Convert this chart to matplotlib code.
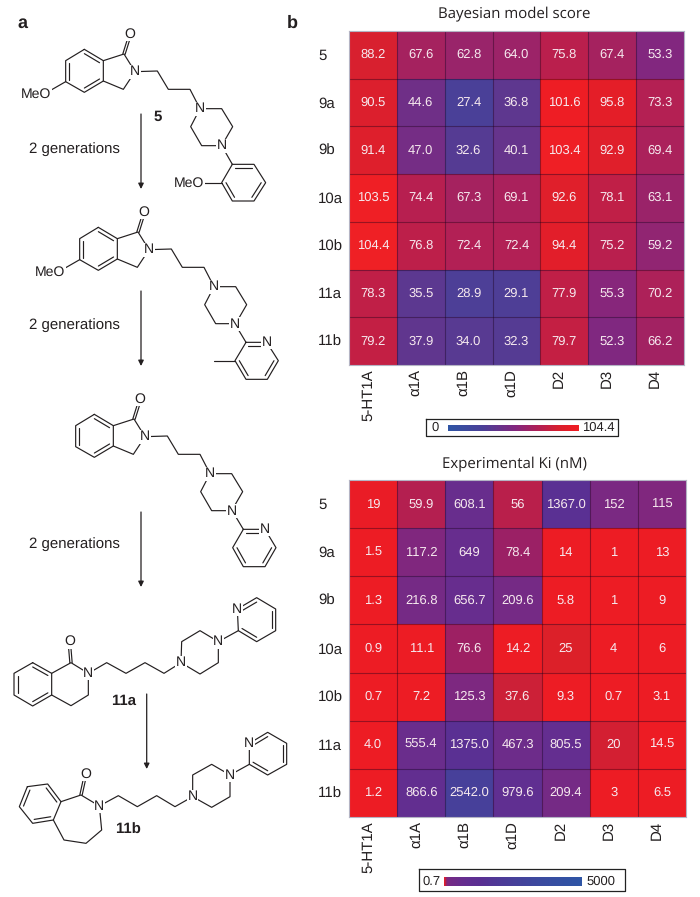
import numpy as np
import matplotlib
matplotlib.use("Agg")
import matplotlib.pyplot as plt
from matplotlib.colors import LinearSegmentedColormap, LogNorm, Normalize

plt.rcParams['font.family'] = ['Liberation Sans', 'DejaVu Sans']
plt.rcParams['text.hinting'] = 'no_hinting'
plt.rcParams['text.hinting_factor'] = 1

W, H = 700, 897

compounds = ["5", "9a", "9b", "10a", "10b", "11a", "11b"]
receptors = ["5-HT1A", "α1A", "α1B", "α1D", "D2", "D3", "D4"]

score = [
    [88.2, 67.6, 62.8, 64.0, 75.8, 67.4, 53.3],
    [90.5, 44.6, 27.4, 36.8, 101.6, 95.8, 73.3],
    [91.4, 47.0, 32.6, 40.1, 103.4, 92.9, 69.4],
    [103.5, 74.4, 67.3, 69.1, 92.6, 78.1, 63.1],
    [104.4, 76.8, 72.4, 72.4, 94.4, 75.2, 59.2],
    [78.3, 35.5, 28.9, 29.1, 77.9, 55.3, 70.2],
    [79.2, 37.9, 34.0, 32.3, 79.7, 52.3, 66.2],
]
ki = [
    ["19", "59.9", "608.1", "56", "1367.0", "152", "115"],
    ["1.5", "117.2", "649", "78.4", "14", "1", "13"],
    ["1.3", "216.8", "656.7", "209.6", "5.8", "1", "9"],
    ["0.9", "11.1", "76.6", "14.2", "25", "4", "6"],
    ["0.7", "7.2", "125.3", "37.6", "9.3", "0.7", "3.1"],
    ["4.0", "555.4", "1375.0", "467.3", "805.5", "20", "14.5"],
    ["1.2", "866.6", "2542.0", "979.6", "209.4", "3", "6.5"],
]

# colour stops
score_stops = [(0, "#2f55a5"), (27.4, "#4a4098"), (53.3, "#82277f"), (75, "#b81f4f"),
               (88.2, "#d8202f"), (101, "#ed1c24"), (104.4, "#ef2025")]
ki_stops = [(0.7, "#ed1c24"), (19, "#ed1c24"), (20, "#cc2036"), (25, "#dc2029"), (37.6, "#cb2038"),
            (58, "#b81f4d"), (78, "#9c2064"), (120, "#7e2880"), (209, "#752a85"),
            (467, "#6d2c8a"), (805, "#642e90"), (1367, "#5a3093"), (2542, "#48409a"),
            (5000, "#2f55a5")]

score_norm = Normalize(0, 104.4)
ki_norm = LogNorm(0.7, 5000)
score_cmap = LinearSegmentedColormap.from_list("score", [(float(score_norm(v)), c) for v, c in score_stops])
ki_cmap = LinearSegmentedColormap.from_list("ki", [(float(ki_norm(v)), c) for v, c in ki_stops])

INK = "#231f20"
fig = plt.figure(figsize=(W / 100, H / 100), dpi=100, facecolor="white")


def px_axes(x0, y0, x1, y1):
    return fig.add_axes([x0 / W, 1 - y1 / H, (x1 - x0) / W, (y1 - y0) / H])


def heatmap(box, values, labels, cmap, norm):
    ax = px_axes(*box)
    ax.pcolormesh(np.array(values, dtype=float), cmap=cmap, norm=norm)
    ax.set_ylim(len(values), 0)
    ax.set_xlim(0, len(receptors))
    ax.set_xticks([])
    ax.set_yticks([])
    ax.hlines(range(1, len(compounds)), 0, len(receptors), color=(0.1, 0, 0.1, 0.4), lw=0.8)
    ax.vlines(range(1, len(receptors)), 0, len(compounds), color=(0.1, 0, 0.1, 0.4), lw=0.8)
    for s in ax.spines.values():
        s.set_color("#b4b4c4")
        s.set_linewidth(0.8)
    for r, row in enumerate(labels):
        for c, lab in enumerate(row):
            ax.text(c + 0.5, r + 0.5, lab, color="#f6e9ee", fontsize=9.6, ha="center", va="center")
    for r, name in enumerate(compounds):
        ax.annotate(name, (0, r + 0.5), xytext=(318 - box[0], -1), textcoords="offset pixels",
                    fontsize=11, color=INK, ha="left", va="center", annotation_clip=False)
    for c, name in enumerate(receptors):
        ax.annotate(name, (c + 0.5, len(compounds)), xytext=(-5, -4), textcoords="offset pixels",
                    fontsize=11, color=INK, rotation=90, ha="center", va="top", annotation_clip=False)


heatmap((349, 31, 684, 365), score, [[f"{v:.1f}" for v in row] for row in score],
        score_cmap, score_norm)
heatmap((349, 480, 686, 817), ki, ki, ki_cmap, ki_norm)

# colour bars
cb1 = px_axes(448, 425, 579, 431)
cb1.imshow(np.linspace(0, 104.4, 256)[None, :], aspect="auto", cmap=score_cmap, norm=score_norm)
cb1.axis("off")
cb2 = px_axes(444, 877, 581, 886)
cb2.imshow(np.linspace(0.7, 5000, 512)[None, :], aspect="auto", cmap=ki_cmap, norm=ki_norm)
cb2.axis("off")

# overlay in reference pixels for the panel letters, titles and structures
top = fig.add_axes([0, 0, 1, 1], zorder=5)
top.set_xlim(0, W)
top.set_ylim(H, 0)
top.axis("off")
top.patch.set_alpha(0)

for x0, y0, x1, y1 in [(426, 419, 618, 436), (419, 869, 625, 891)]:
    top.plot([x0, x1, x1, x0, x0], [y0, y0, y1, y1, y0], color="#222222", lw=0.9)
top.text(435, 428, "0", fontsize=9.6, color=INK, ha="center", va="center")
top.text(615, 428, "104.4", fontsize=9.6, color=INK, ha="right", va="center")
top.text(441, 882, "0.7", fontsize=9.6, color=INK, ha="right", va="center")
top.text(615, 882, "5000", fontsize=9.6, color=INK, ha="right", va="center")

top.text(514, 14, "Bayesian model score", family="Open Sans", fontsize=11, color=INK, ha="center", va="center")
top.text(514, 464, "Experimental Ki (nM)", family="Open Sans", fontsize=11, color=INK, ha="center", va="center")
top.text(22, 23, "a", fontsize=13, fontweight="bold", color=INK, ha="center", va="center")
top.text(292, 23, "b", fontsize=13, fontweight="bold", color=INK, ha="center", va="center")


def chain(ox, oy, pts, closed=False):
    xs = [p[0] / 3 + ox for p in pts]
    ys = [p[1] / 3 + oy for p in pts]
    if closed:
        xs.append(xs[0])
        ys.append(ys[0])
    top.plot(xs, ys, color=INK, lw=0.85, solid_capstyle="round", solid_joinstyle="round", zorder=2)


def ring(ox, oy, pts, doubles):
    """closed ring, inner line on the listed edges"""
    chain(ox, oy, pts, closed=True)
    c = np.array([sum(p[0] for p in pts) / len(pts), sum(p[1] for p in pts) / len(pts)])
    for i in doubles:
        a, b = np.array(pts[i], float), np.array(pts[(i + 1) % len(pts)], float)
        chain(ox, oy, [a + (c - a) * 0.2, b + (c - b) * 0.2])


def carbonyl(ox, oy, c, o):
    a, b = np.array(c, float), np.array(o, float)
    d = b - a
    n = np.array([-d[1], d[0]]) / np.hypot(*d) * 3.5
    chain(ox, oy, [a + n, b + n])
    chain(ox, oy, [a - n, b - n])


def atom(ox, oy, p, s, fs=10):
    top.text(p[0] / 3 + ox, p[1] / 3 + oy, s, fontsize=fs, color=INK, ha="center", va="center", zorder=3,
             bbox=dict(facecolor="white", edgecolor="none", pad=0.4))


def isoindolone(ox, oy, meo):
    ring(ox, oy, [(253, 148), (310, 182), (310, 243), (253, 277), (197, 245), (197, 182)], [0, 2, 4])
    chain(ox, oy, [(310, 182), (372, 162), (405, 215), (370, 268), (310, 243)])
    carbonyl(ox, oy, (372, 162), (389, 108))
    atom(ox, oy, (389, 102), "O")
    chain(ox, oy, [(405, 215), (472, 213), (505, 268), (570, 268), (600, 326)])
    ring(ox, oy, [(600, 326), (665, 326), (698, 380), (665, 437), (605, 437), (572, 380)], [])
    atom(ox, oy, (405, 215), "N")
    atom(ox, oy, (600, 326), "N")
    atom(ox, oy, (665, 437), "N")
    if meo:
        chain(ox, oy, [(197, 245), (150, 272)])
        atom(ox, oy, (108, 282), "MeO")


# compound 5
isoindolone(0, 0, True)
chain(0, 0, [(665, 437), (697, 493)])
ring(0, 0, [(697, 493), (762, 493), (797, 548), (762, 603), (697, 603), (665, 548)], [0, 2, 4])
chain(0, 0, [(665, 548), (610, 548)])
atom(0, 0, (567, 550), "MeO")
atom(0, 0, (665, 437), "N")
top.text(158, 117, "5", fontsize=10.5, fontweight="bold", color=INK, ha="center", va="center")

# methylpyridine analogue
isoindolone(14, 178, True)
pyr_m = [(738, 337), (800, 337), (835, 392), (802, 448), (738, 448), (705, 392)]
chain(0, 230, [(705, 282), (738, 337)])
ring(0, 230, pyr_m, [0, 2, 4])
chain(0, 230, [(705, 392), (642, 392)])
atom(0, 230, (800, 337), "N")
atom(0, 230, (705, 282), "N")

# des-methoxy analogue
isoindolone(10, 365, False)
pyr = [(730, 88), (795, 88), (828, 143), (795, 200), (730, 200), (698, 143)]
chain(0, 500, [(697, 33), (730, 88)])
ring(0, 500, pyr, [0, 2, 4])
atom(0, 500, (795, 88), "N")
atom(0, 500, (697, 33), "N")

# 11a
ring(0, 500, [(98, 488), (155, 520), (155, 585), (98, 618), (42, 585), (42, 520)], [0, 2, 4])
chain(0, 500, [(155, 520), (213, 488), (265, 520), (265, 585), (213, 617), (155, 585)])
carbonyl(0, 500, (213, 488), (209, 440))
chain(0, 500, [(265, 520), (320, 488), (378, 520), (435, 488), (492, 520), (543, 488)])
ring(0, 500, [(543, 488), (545, 425), (600, 392), (655, 425), (655, 488), (600, 522)], [])
chain(0, 500, [(655, 425), (715, 392)])
ring(0, 500, [(712, 327), (770, 293), (827, 327), (827, 392), (770, 425), (715, 392)], [0, 2, 4])
for p, s in [((208, 425), "O"), ((265, 520), "N"), ((543, 488), "N"), ((655, 425), "N"), ((712, 327), "N")]:
    atom(0, 500, p, s)
top.text(370 / 3, 603 / 3 + 500, "11a", fontsize=10.5, fontweight="bold", color=INK, ha="center", va="center")

# 11b
ring(0, 500, [(82, 860), (143, 852), (183, 905), (160, 960), (98, 970), (58, 920)], [1, 3, 5])
chain(0, 500, [(183, 905), (243, 885), (298, 918), (305, 990), (258, 1030), (192, 1020), (160, 960)])
carbonyl(0, 500, (243, 885), (254, 835))
chain(0, 500, [(298, 918), (355, 887), (412, 920), (470, 887), (525, 920), (578, 890)])
ring(0, 500, [(578, 890), (578, 825), (635, 793), (690, 825), (690, 890), (635, 922)], [])
chain(0, 500, [(690, 825), (748, 793)])
ring(0, 500, [(748, 730), (803, 697), (860, 730), (860, 793), (803, 825), (748, 793)], [0, 2, 4])
for p, s in [((256, 822), "O"), ((298, 918), "N"), ((578, 890), "N"), ((690, 825), "N"), ((748, 730), "N")]:
    atom(0, 500, p, s)
top.text(383 / 3, 990 / 3 + 500, "11b", fontsize=10.5, fontweight="bold", color=INK, ha="center", va="center")

# reaction arrows
for x, y0, y1 in [(141, 114, 189), (141, 291, 366), (141, 512, 587), (146.7, 694, 769)]:
    top.annotate("", xy=(x, y1), xytext=(x, y0),
                 arrowprops=dict(arrowstyle="-|>", lw=0.9, color=INK, shrinkA=0, shrinkB=0, mutation_scale=8))
for y in [149, 325.5, 544.5]:
    top.text(74, y, "2 generations", fontsize=11, color=INK, ha="center", va="center")

fig.savefig("out.png", dpi=100)
